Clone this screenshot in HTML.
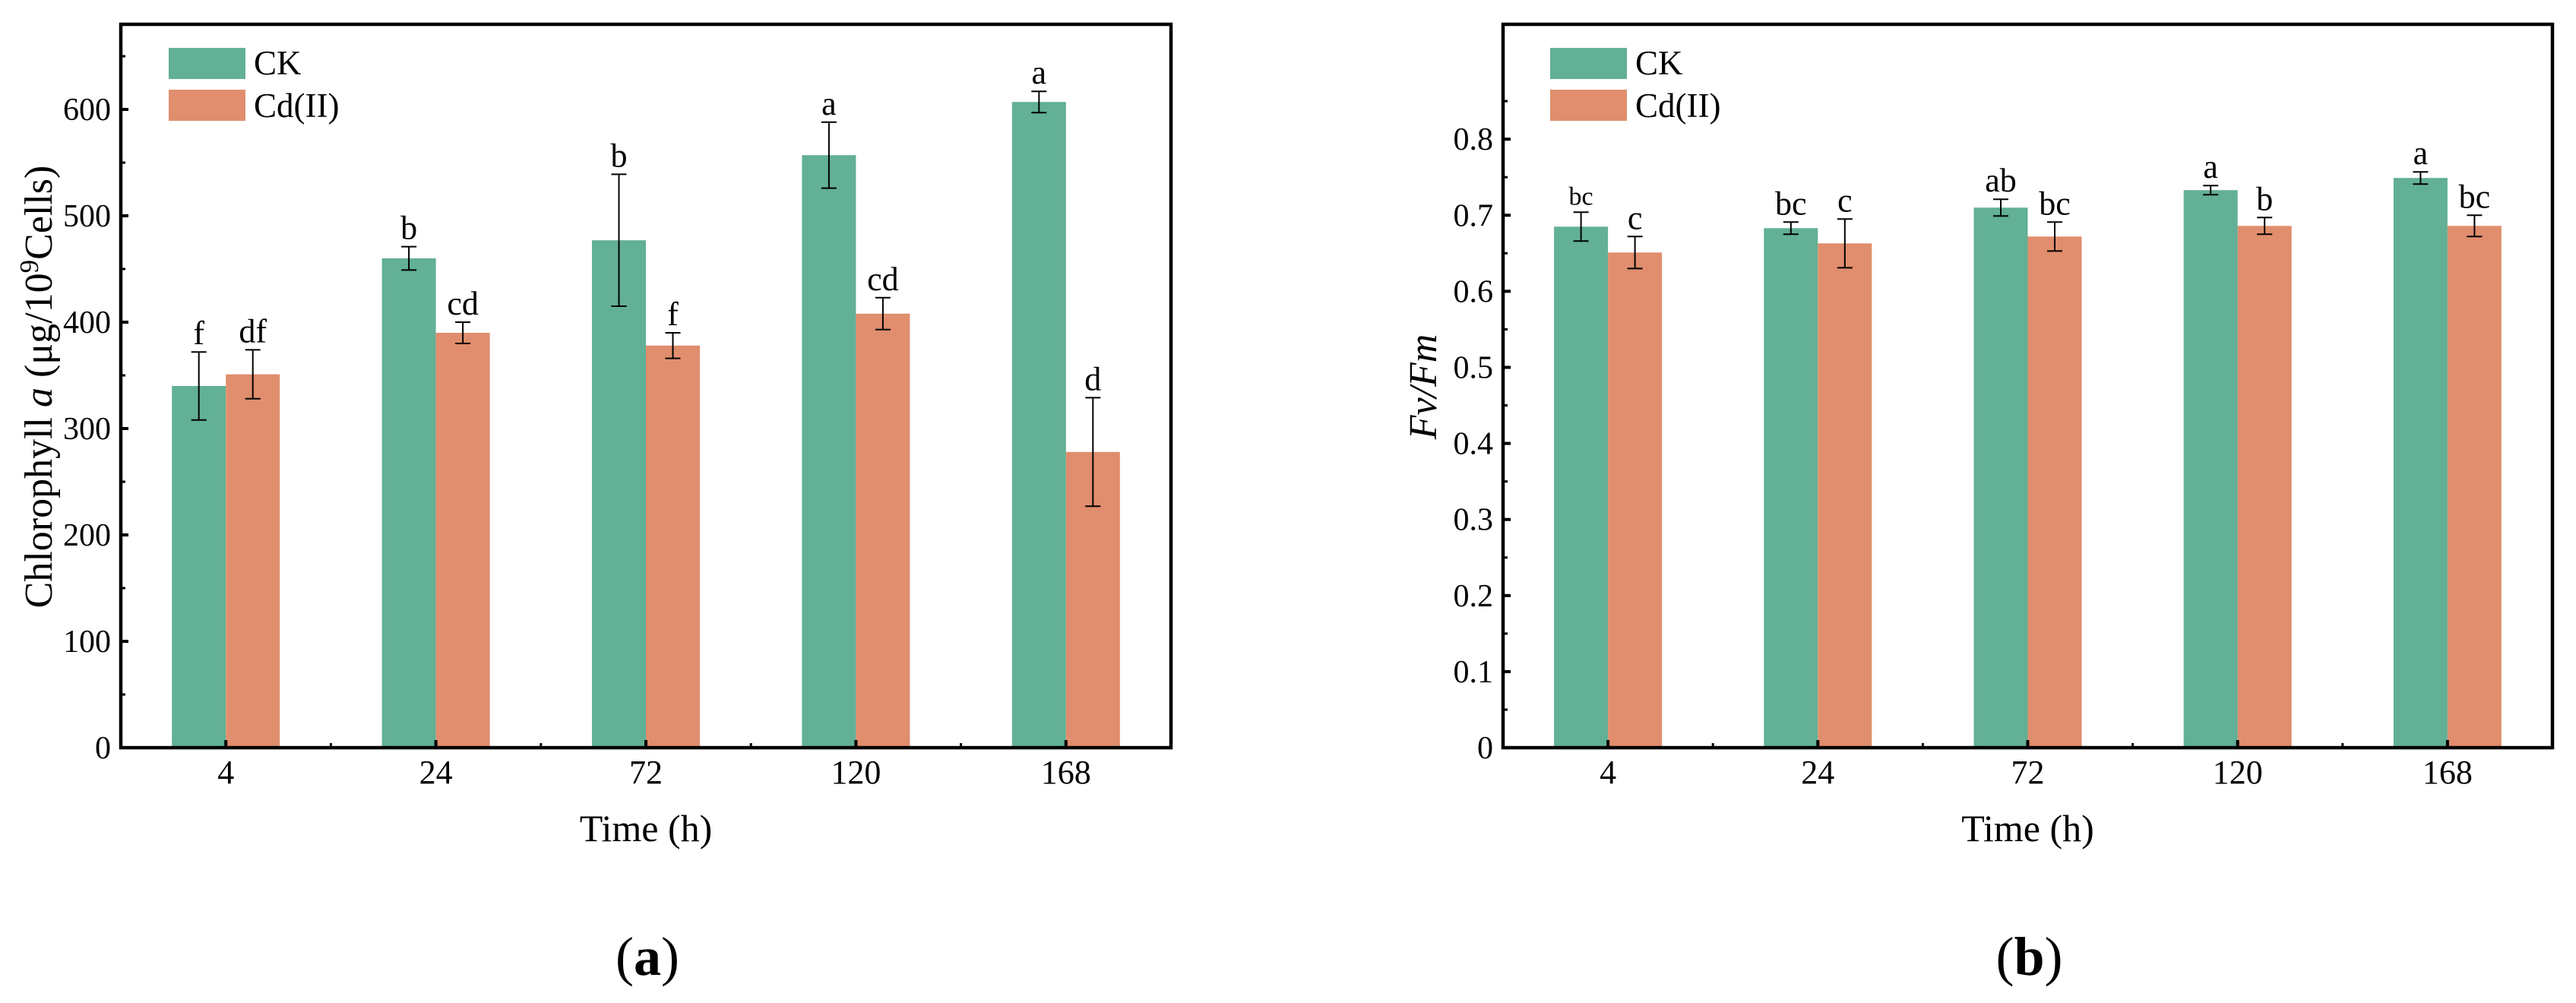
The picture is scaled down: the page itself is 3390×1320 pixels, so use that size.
<!DOCTYPE html>
<html><head><meta charset="utf-8">
<style>
html,body{margin:0;padding:0;background:#fff;}
svg{display:block;font-family:"Liberation Serif","Times New Roman",serif;}
</style></head>
<body>
<svg id="fig" width="3390" height="1320" viewBox="0 0 3390 1320" xmlns="http://www.w3.org/2000/svg">
  <g id="panelA"></g>
  <g id="panelB"></g>
</svg>
<script>
// ---- shared data ----
const categories = ["4", "24", "72", "120", "168"];
// Panel (a): Chlorophyll a
const chlCK = [340, 460, 477, 557, 607];
const chlCKErr = [32, 11, 62, 31, 10];
const chlCd = [351, 390, 378, 408, 278];
const chlCdErr = [23, 10, 12, 15, 51];
const chlCKLetters = ["f", "b", "b", "a", "a"];
const chlCdLetters = ["df", "cd", "f", "cd", "d"];
const chlTicks = [0, 100, 200, 300, 400, 500, 600];
const chlTickLabels = ["0", "100", "200", "300", "400", "500", "600"];
// Panel (b): Fv/Fm
const fvCK = [0.685, 0.683, 0.710, 0.733, 0.749];
const fvCKErr = [0.019, 0.008, 0.011, 0.006, 0.008];
const fvCd = [0.651, 0.663, 0.672, 0.686, 0.686];
const fvCdErr = [0.021, 0.032, 0.019, 0.011, 0.014];
const fvCKLetters = ["bc", "bc", "ab", "a", "a"];
const fvCdLetters = ["c", "c", "bc", "b", "bc"];
const fvTicks = [0, 0.1, 0.2, 0.3, 0.4, 0.5, 0.6, 0.7, 0.8];
const fvTickLabels = ["0", "0.1", "0.2", "0.3", "0.4", "0.5", "0.6", "0.7", "0.8"];

const NS = "http://www.w3.org/2000/svg";
const GREEN = "#62b096", ORANGE = "#e08e6d";

function mk(parent, tag, attrs, text) {
  const e = document.createElementNS(NS, tag);
  for (const k in attrs) e.setAttribute(k, attrs[k]);
  if (text !== undefined) e.textContent = text;
  parent.appendChild(e);
  return e;
}

function drawPanel(g, cfg) {
  const L = cfg.left, R = cfg.right, T = 32, B = 984;
  const yMax = cfg.yMax;
  const band = (R - L) / categories.length;
  const bw = 71;
  const yS = v => B - (v / yMax) * (B - T);
  const xC = i => L + band * (i + 0.5);

  const series = [
    {vals: cfg.ck, err: cfg.ckErr, lab: cfg.ckLab, col: GREEN, off: -bw, name: "ck"},
    {vals: cfg.cd, err: cfg.cdErr, lab: cfg.cdLab, col: ORANGE, off: 0, name: "cd"}
  ];
  series.forEach(s => {
    s.vals.forEach((v, i) => {
      const x = xC(i) + s.off;
      const r = mk(g, "rect", {x: x, y: yS(v), width: bw, height: B - yS(v), fill: s.col});
      
      
      const cx = x + bw / 2;
      const top = yS(v + s.err[i]), bot = yS(v - s.err[i]);
      const eg = mk(g, "g", {stroke: "#000", "stroke-width": 2});
      
      
      mk(eg, "line", {x1: cx, x2: cx, y1: top, y2: bot});
      mk(eg, "line", {x1: cx - 10, x2: cx + 10, y1: top, y2: top});
      mk(eg, "line", {x1: cx - 10, x2: cx + 10, y1: bot, y2: bot});
      const small = cfg.smallFirst && i === 0 && s.name === "ck";
      const t = mk(g, "text", {x: cx, y: top - 10, "text-anchor": "middle", "font-size": small ? 34 : 44}, s.lab[i]);
      
      
    });
  });

  const fr = mk(g, "rect", {x: L, y: T, width: R - L, height: B - T, fill: "none", stroke: "#000", "stroke-width": 4.5});
  
  

  const yax = mk(g, "g", {});
  
  
  cfg.ticks.forEach((v, i) => {
    const y = yS(v);
    mk(yax, "line", {x1: L, x2: L + 10, y1: y, y2: y, stroke: "#000", "stroke-width": 4});
    const t = mk(yax, "text", {x: L - 13, y: y + 14, "text-anchor": "end", "font-size": 42}, cfg.tickLabels[i]);
    
    
    const mv = v + cfg.minorStep;
    if (mv < yMax) {
      const my = yS(mv);
      mk(yax, "line", {x1: L, x2: L + 6, y1: my, y2: my, stroke: "#000", "stroke-width": 3});
    }
  });

  const xax = mk(g, "g", {});
  
  
  categories.forEach((c, i) => {
    const x = xC(i);
    mk(xax, "line", {x1: x, x2: x, y1: B, y2: B - 10, stroke: "#000", "stroke-width": 4});
    if (i > 0) {
      const mx = L + band * i;
      mk(xax, "line", {x1: mx, x2: mx, y1: B, y2: B - 6, stroke: "#000", "stroke-width": 3});
    }
    const t = mk(xax, "text", {x: x, y: 1031, "text-anchor": "middle", "font-size": 44}, c);
    
    
  });

  const xt = mk(g, "text", {x: (L + R) / 2, y: 1107, "text-anchor": "middle", "font-size": 50}, "Time (h)");
  
  

  const yt = mk(g, "text", {transform: "translate(" + cfg.yTitleX + ",509) rotate(-90)", "text-anchor": "middle", "font-size": 52});
  
  
  if (cfg.chl) {
    mk(yt, "tspan", {}, "Chlorophyll ");
    mk(yt, "tspan", {"font-style": "italic"}, "a");
    mk(yt, "tspan", {}, " (μg/10");
    mk(yt, "tspan", {dy: -18, "font-size": 35}, "9");
    mk(yt, "tspan", {dy: 18}, "Cells)");
  } else {
    mk(yt, "tspan", {"font-style": "italic"}, "Fv/Fm");
  }

  const lg = mk(g, "g", {});
  
  
  const lx = cfg.legendX;
  const e1 = mk(lg, "g", {});
  
  
  mk(e1, "rect", {x: lx, y: 63, width: 101, height: 41, fill: GREEN});
  mk(e1, "text", {x: lx + 112, y: 98, "font-size": 45}, "CK");
  const e2 = mk(lg, "g", {});
  
  
  mk(e2, "rect", {x: lx, y: 118, width: 101, height: 41, fill: ORANGE});
  mk(e2, "text", {x: lx + 112, y: 154, "font-size": 45}, "Cd(II)");

  const pl = mk(g, "text", {x: (L + R) / 2 + 2, y: 1283, "text-anchor": "middle", "font-size": 72});
  
  
  mk(pl, "tspan", {}, "(");
  mk(pl, "tspan", {"font-weight": "bold"}, cfg.panel);
  mk(pl, "tspan", {}, ")");
}

drawPanel(document.getElementById("panelA"), {
  left: 159, right: 1541, yMax: 680, ck: chlCK, ckErr: chlCKErr, cd: chlCd, cdErr: chlCdErr,
  ckLab: chlCKLetters, cdLab: chlCdLetters, ticks: chlTicks, tickLabels: chlTickLabels,
  minorStep: 50, yTitleX: 68, legendX: 222, chl: true, panel: "a", smallFirst: false
});
drawPanel(document.getElementById("panelB"), {
  left: 1978, right: 3359, yMax: 0.951, ck: fvCK, ckErr: fvCKErr, cd: fvCd, cdErr: fvCdErr,
  ckLab: fvCKLetters, cdLab: fvCdLetters, ticks: fvTicks, tickLabels: fvTickLabels,
  minorStep: 0.05, yTitleX: 1890, legendX: 2040, chl: false, panel: "b", smallFirst: true
});
</script>
</body></html>
